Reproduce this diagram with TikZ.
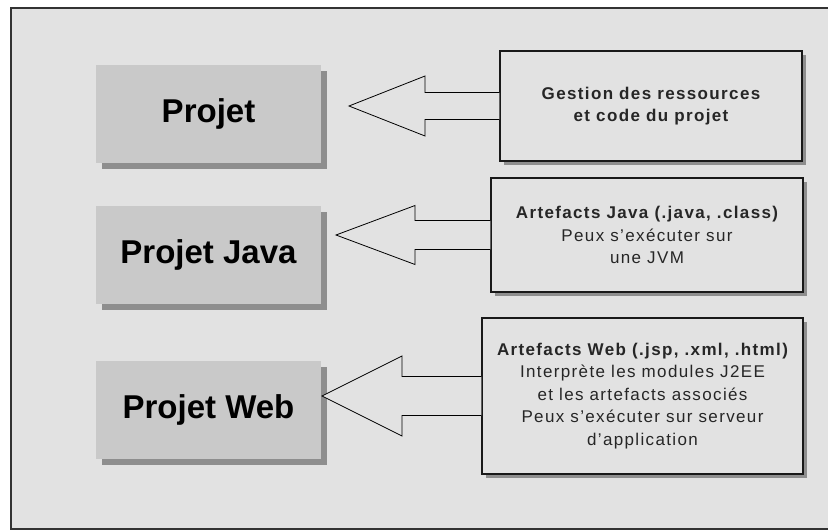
\documentclass[tikz,border=0pt]{standalone}
\usepackage{fontspec}
\setmainfont{Liberation Sans}
\newfontfamily\descfont[LetterSpace=8]{Liberation Sans}
\usetikzlibrary{shadows, calc}

\definecolor{pagebg}{HTML}{E2E2E2}
\definecolor{boxgray}{HTML}{C9C9C9}
\definecolor{shadowgray}{HTML}{8E8E8E}

\begin{document}
\begin{tikzpicture}[
    x=1pt, y=-1pt,
    kind/.style={fill=boxgray, minimum width=225pt, minimum height=98pt,
                 inner sep=0pt, font=\fontsize{33}{36}\selectfont\bfseries,
                 drop shadow={shadow xshift=6pt, shadow yshift=-6pt,
                              fill=shadowgray, opacity=1}},
    desc/.style={draw=black!90, line width=1.1pt, fill=pagebg, align=center,
                 inner sep=0pt, text=black!85,
                 font=\descfont\fontsize{17}{22.5}\selectfont,
                 drop shadow={shadow xshift=4pt, shadow yshift=-4pt,
                              fill=shadowgray, opacity=1}},
    blockarrow/.style={draw=black, line width=0.8pt, fill=pagebg,
                       line join=miter},
]

\useasboundingbox (0,0) rectangle (828,531);

% ── Frame ────────────────────────────────────────────────────────────────
\draw[line width=2.5pt, draw=black!80, fill=pagebg] (11,8) rectangle (840,529);

% ── Project kinds ────────────────────────────────────────────────────────
\node[kind] (proj) at (208.5,113.5) {Projet};
\node[kind] (java) at (208.5,254.5) {Projet Java};
\node[kind] (web)  at (208.5,409.5) {Projet Web};

% ── Descriptions ─────────────────────────────────────────────────────────
\node[desc, minimum width=302pt, minimum height=110pt] (desc1) at (651,106)
    {\bfseries Gestion des ressources\\\bfseries et code du projet};
\node[desc, minimum width=312pt, minimum height=114pt] (desc2) at (647,235)
    {\bfseries Artefacts Java (.java, .class)\\Peux s’exécuter sur\\une JVM};
\node[desc, minimum width=321pt, minimum height=156pt] (desc3) at (642.5,396)
    {\bfseries Artefacts Web (.jsp, .xml, .html)\\Interprète les modules J2EE\\
     et les artefacts associés\\Peux s’exécuter sur serveur\\d’application};

% ── Block arrows ─────────────────────────────────────────────────────────
\foreach \t/\tip/\hd/\hw/\sw in {desc1/349/76/30/13.5,
                                 desc2/336/79/29.5/14.5,
                                 desc3/322/80/40/19.5} {
    \coordinate (tip) at (\tip,0 |- \t.west);
    \draw[blockarrow] ($(\t.west)+(0,-\sw)$) -- ($(tip)+(\hd,-\sw)$)
        -- ($(tip)+(\hd,-\hw)$) -- (tip) -- ($(tip)+(\hd,\hw)$)
        -- ($(tip)+(\hd,\sw)$) -- ($(\t.west)+(0,\sw)$);
}

\end{tikzpicture}
\end{document}
